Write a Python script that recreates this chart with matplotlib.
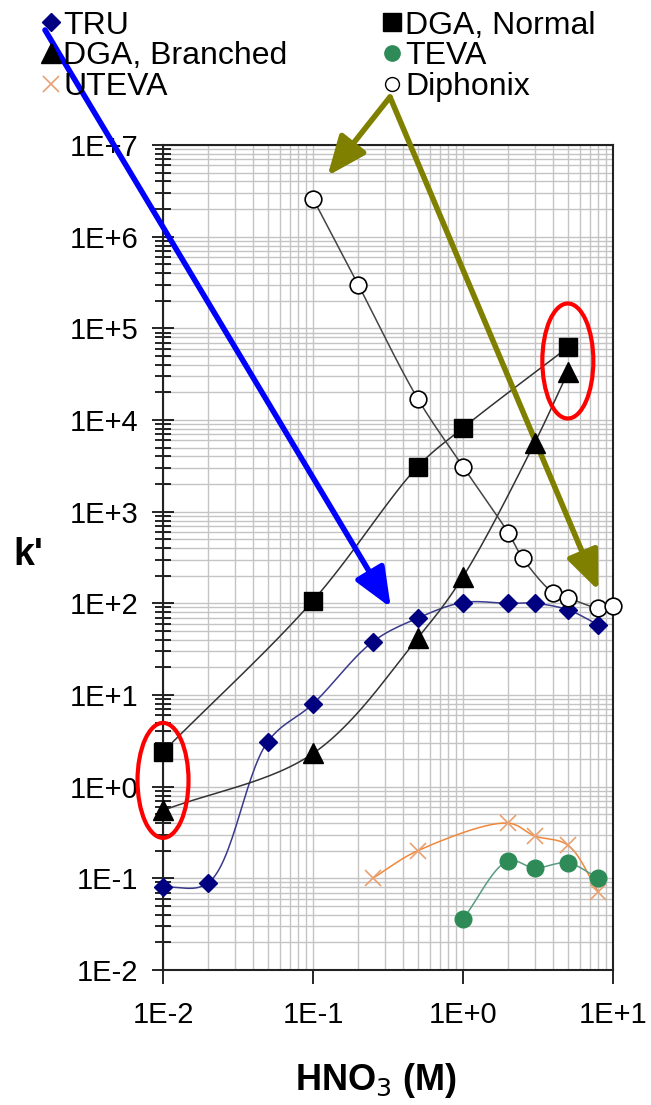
import matplotlib
matplotlib.use("Agg")
import matplotlib.pyplot as plt
import numpy as np
from matplotlib.lines import Line2D
from matplotlib.patches import Ellipse
from matplotlib.transforms import ScaledTranslation
from matplotlib.ticker import LogLocator, NullFormatter, FixedLocator

plt.rcParams['font.family'] = ['Liberation Sans', 'DejaVu Sans']

# data (HNO3 molarity vs k')
tru_x = [0.01, 0.02, 0.05, 0.1, 0.25, 0.5, 1, 2, 3, 5, 8]
tru_y = [0.08, 0.089, 3.1, 8.0, 38, 69, 102, 100, 100, 85, 58]
dgan_x = [0.01, 0.1, 0.5, 1, 5]
dgan_y = [2.4, 107, 3100, 8200, 62000]
dgab_x = [0.01, 0.1, 0.5, 1, 3, 5]
dgab_y = [0.55, 2.3, 42, 195, 5600, 33000]
dip_x = [0.1, 0.2, 0.5, 1, 2, 2.5, 4, 5, 8, 10]
dip_y = [2.6e6, 3.0e5, 1.7e4, 3100, 590, 310, 130, 115, 89, 94]
uteva_x = [0.25, 0.5, 2, 3, 5, 8]
uteva_y = [0.10, 0.20, 0.40, 0.29, 0.23, 0.071]
teva_x = [1, 2, 3, 5, 8]
teva_y = [0.036, 0.155, 0.13, 0.147, 0.10]

ytick_labels = ['1E-2', '1E-1', '1E+0', '1E+1', '1E+2', '1E+3', '1E+4', '1E+5', '1E+6', '1E+7']
xtick_labels = ['1E-2', '1E-1', '1E+0', '1E+1']

# px per decade on screen, used so the smoothing works like excel's (screen space)
SX, SY = 450 / 3, 825 / 9


def smooth(x, y, n=30, a=0.5):
    # centripetal catmull-rom through the points, in screen-scaled log space
    P = np.column_stack([np.log10(x) * SX, np.log10(y) * SY])
    P = np.vstack([2 * P[0] - P[1], P, 2 * P[-1] - P[-2]])
    out = []
    for i in range(1, len(P) - 2):
        p0, p1, p2, p3 = P[i - 1], P[i], P[i + 1], P[i + 2]
        t0 = 0.0
        t1 = t0 + np.linalg.norm(p1 - p0) ** a
        t2 = t1 + np.linalg.norm(p2 - p1) ** a
        t3 = t2 + np.linalg.norm(p3 - p2) ** a
        t = np.linspace(t1, t2, n)[:, None]
        A1 = (t1 - t) / (t1 - t0) * p0 + (t - t0) / (t1 - t0) * p1
        A2 = (t2 - t) / (t2 - t1) * p1 + (t - t1) / (t2 - t1) * p2
        A3 = (t3 - t) / (t3 - t2) * p2 + (t - t2) / (t3 - t2) * p3
        B1 = (t2 - t) / (t2 - t0) * A1 + (t - t0) / (t2 - t0) * A2
        B2 = (t3 - t) / (t3 - t1) * A2 + (t - t1) / (t3 - t1) * A3
        C = (t2 - t) / (t2 - t1) * B1 + (t - t1) / (t2 - t1) * B2
        out.append(C)
    C = np.vstack(out)
    return 10 ** (C[:, 0] / SX), 10 ** (C[:, 1] / SY)


fig = plt.figure(figsize=(6.51, 11.05), dpi=100)
ax = fig.add_axes([0.2504, 0.1222, 0.6912, 0.7466])
ax.set_xscale('log')
ax.set_yscale('log')
ax.set_xlim(0.01, 10)
ax.set_ylim(1e-2, 1e7)

series = [
    (tru_x, tru_y, '#3a3a8c', dict(marker='D', ms=9.5, mfc='#000080', mec='#000080')),
    (dgan_x, dgan_y, '#333333', dict(marker='s', ms=13, mfc='black', mec='black')),
    (dgab_x, dgab_y, '#333333', dict(marker='^', ms=14, mfc='black', mec='black')),
    (dip_x, dip_y, '#444444', dict(marker='o', ms=12, mfc='white', mec='black', mew=1.2)),
    (uteva_x, uteva_y, '#f0883c', dict(marker='x', ms=12, mec='#e8a070', mew=1.2)),
    (teva_x, teva_y, '#5a9a80', dict(marker='o', ms=12, mfc='#2e8b57', mec='#2e8b57')),
]
for x, y, lc, mk in series:
    sx, sy = smooth(x, y)
    ax.plot(sx, sy, color=lc, lw=1.1, zorder=3)
    ax.plot(x, y, ls='none', zorder=4, clip_on=False, **mk)

ax.xaxis.set_major_locator(FixedLocator([0.01, 0.1, 1, 10]))
ax.set_xticklabels(xtick_labels)
ax.xaxis.set_minor_locator(LogLocator(base=10, subs=np.arange(2, 10)))
ax.xaxis.set_minor_formatter(NullFormatter())
ax.yaxis.set_major_locator(FixedLocator([10.0 ** k for k in range(-2, 8)]))
ax.set_yticklabels(ytick_labels)
ax.yaxis.set_minor_locator(LogLocator(base=10, subs=np.arange(2, 10), numticks=20))
ax.yaxis.set_minor_formatter(NullFormatter())

ax.grid(True, which='both', color='#c4c4c4', lw=1.0, zorder=0)
ax.tick_params(axis='x', which='major', direction='out', length=10, width=1.2, labelsize=21, pad=12)
ax.tick_params(axis='x', which='minor', length=0)
ax.tick_params(axis='y', which='major', direction='inout', length=16, width=1.2, labelsize=21, pad=10)
ax.tick_params(axis='y', which='minor', direction='inout', length=12, width=1.2)
for s in ax.spines.values():
    s.set_linewidth(1.5)
    s.set_color('#222222')
ax.set_axisbelow(True)

fig.text(0.043, 0.498, "k'", fontsize=27, fontweight='bold', ha='center', va='center')
fig.text(0.578, 0.022, 'HNO$_3$ (M)', fontsize=26, fontweight='bold', ha='center', va='center')

# legend (markers only)
handles = [
    Line2D([], [], ls='none', marker='D', ms=9.5, color='#000080'),
    Line2D([], [], ls='none', marker='^', ms=14, color='black'),
    Line2D([], [], ls='none', marker='x', ms=12, mew=1.2, color='#e8a070'),
    Line2D([], [], ls='none', marker='s', ms=13, color='black'),
    Line2D([], [], ls='none', marker='o', ms=11, color='#2e8b57'),
    Line2D([], [], ls='none', marker='o', ms=10, mfc='white', mec='black'),
]
labels = ['TRU', 'DGA, Branched', 'UTEVA', 'DGA, Normal', 'TEVA', 'Diphonix']
fig.legend(handles, labels, ncol=2, loc='upper left', bbox_to_anchor=(0.045, 1.002),
           frameon=False, prop={'size': 23},
           handlelength=0.55, handletextpad=0.12,
           labelspacing=0.02, columnspacing=3.0, borderaxespad=0)

# arrows from the legend entries
head = '-|>,head_length=2.4,head_width=1.0'
ax.annotate('', xy=(0.33, 90), xycoords='data', xytext=(45 / 651, 1 - 30 / 1105),
            textcoords='figure fraction',
            arrowprops=dict(arrowstyle=head, color='#0000ff', lw=4, shrinkA=0, shrinkB=0),
            annotation_clip=False)
for tip in [(0.125, 4.6e6), (8.0, 138)]:
    ax.annotate('', xy=tip, xycoords='data', xytext=(390 / 651, 1 - 97 / 1105),
                textcoords='figure fraction',
                arrowprops=dict(arrowstyle=head, color='#808000', lw=4, shrinkA=0, shrinkB=0),
                annotation_clip=False)

# red ellipses around the DGA points
for cx, cy in [(0.01, 1.17), (5, 44000)]:
    tr = fig.dpi_scale_trans + ScaledTranslation(cx, cy, ax.transData)
    ax.add_patch(Ellipse((0, 0), 0.51, 1.15, transform=tr, fill=False, ec='#ff0000', lw=3,
                         clip_on=False, zorder=6))

fig.savefig('out.png', dpi=100)
